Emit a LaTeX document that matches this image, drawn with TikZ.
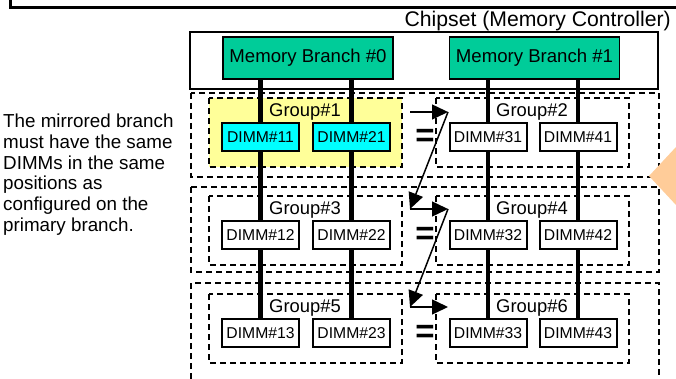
\documentclass[tikz,border=0pt]{standalone}
\usepackage{fontspec}
\setmainfont{Liberation Sans}
\usetikzlibrary{arrows.meta}
\definecolor{branchgreen}{RGB}{0,204,153}
\definecolor{groupyellow}{RGB}{255,255,153}
\definecolor{dimmcyan}{RGB}{0,255,255}
\definecolor{hintorange}{RGB}{255,204,153}

\begin{document}
\begin{tikzpicture}[x=1pt,y=-1pt,
  branch/.style={draw,line width=1.5pt,fill=branchgreen,minimum width=170pt,
    minimum height=42pt,inner sep=0pt,font=\fontsize{18.6}{20}\selectfont},
  dimm/.style={draw,line width=2pt,fill=white,minimum width=77pt,
    minimum height=28pt,inner sep=0pt,font=\fontsize{15.7}{18}\selectfont},
  grouplabel/.style={inner sep=0pt,font=\fontsize{18.4}{20}\selectfont},
  rowbox/.style={dash pattern=on 6pt off 4pt,line width=1.5pt},
  bus/.style={line width=4.5pt},
  mirror/.style={-{Triangle[length=16pt,width=15pt]},line width=1.5pt},
  same/.style={inner sep=0pt,font=\fontsize{33}{33}\selectfont\bfseries}]
  \useasboundingbox (0,0) rectangle (676,379);

  % system board edge and chipset
  \draw[line width=3pt] (10,0) |- (676,8);
  \node[anchor=east,inner sep=0pt,font=\fontsize{21.2}{23}\selectfont]
    (chiptitle) at (671,21) {Chipset (Memory Controller)};
  \node[draw,line width=1.5pt,minimum width=468pt,minimum height=57pt]
    (chip) at (424,60.5) {};
  \node[branch] (branch0) at (308,58) {Memory Branch \#0};
  \node[branch] (branch1) at (534.5,58) {Memory Branch \#1};

  % rows and groups
  \draw[rowbox] (191,93) rectangle (659,177);
  \fill[hintorange] (649,176) -- (676,147) -- (676,205) -- cycle;
  \draw[rowbox] (191,187) rectangle (659,272);
  \draw[rowbox] (191,379) -- (191,283) -- (659,283) -- (659,379);
  \draw[rowbox,fill=groupyellow] (209,98) rectangle (402,167);
  \draw[rowbox] (436,98) rectangle (629,167);
  \draw[rowbox] (209,196) rectangle (402,265);
  \draw[rowbox] (436,196) rectangle (629,265);
  \draw[rowbox] (209,294) rectangle (402,363);
  \draw[rowbox] (436,294) rectangle (629,363);

  \node[grouplabel] (g1) at (305,112) {Group\#1};
  \node[grouplabel] (g2) at (532,112) {Group\#2};
  \node[grouplabel] (g3) at (305,210) {Group\#3};
  \node[grouplabel] (g4) at (532,210) {Group\#4};
  \node[grouplabel] (g5) at (305,308) {Group\#5};
  \node[grouplabel] (g6) at (532,308) {Group\#6};

  % DIMM slots
  \coordinate (d11) at (260.5,137);
  \coordinate (d21) at (351.5,137);
  \coordinate (d31) at (488,137);
  \coordinate (d41) at (578,137);
  \coordinate (d13) at (260.5,333);
  \coordinate (d23) at (351.5,333);
  \coordinate (d33) at (488,333);
  \coordinate (d43) at (578,333);
  \draw[bus] (d11 |- branch0.south) -- (d13);
  \draw[bus] (d21 |- branch0.south) -- (d23);
  \draw[bus] (d31 |- branch1.south) -- (d33);
  \draw[bus] (d41 |- branch1.south) -- (d43);

  \node[dimm,fill=dimmcyan] (dimm11) at (d11) {DIMM\#11};
  \node[dimm,fill=dimmcyan] (dimm21) at (d21) {DIMM\#21};
  \node[dimm] (dimm31) at (d31) {DIMM\#31};
  \node[dimm] (dimm41) at (d41) {DIMM\#41};
  \node[dimm] (dimm12) at (260.5,235) {DIMM\#12};
  \node[dimm] (dimm22) at (351.5,235) {DIMM\#22};
  \node[dimm] (dimm32) at (488,235) {DIMM\#32};
  \node[dimm] (dimm42) at (578,235) {DIMM\#42};
  \node[dimm] (dimm13) at (d13) {DIMM\#13};
  \node[dimm] (dimm23) at (d23) {DIMM\#23};
  \node[dimm] (dimm33) at (d33) {DIMM\#33};
  \node[dimm] (dimm43) at (d43) {DIMM\#43};

  % mirroring
  \node[same] (eq1) at (425,138) {=};
  \node[same] (eq2) at (425,236) {=};
  \node[same] (eq3) at (425,334) {=};
  \coordinate (m1a) at (410,112);
  \coordinate (m1b) at (448,112);
  \coordinate (m2a) at (410,209);
  \coordinate (m2b) at (448,209);
  \coordinate (m3a) at (410,307);
  \coordinate (m3b) at (448,307);
  \draw[mirror] (m1a) -- (m1b);
  \draw[mirror] (m1b) -- (m2a);
  \draw[mirror] (m2a) -- (m2b);
  \draw[mirror] (m2b) -- (m3a);
  \draw[mirror] (m3a) -- (m3b);

  \node[anchor=north west,align=left,inner sep=0pt,
    font=\fontsize{18.8}{20.7}\selectfont] (note) at (3,114)
    {The mirrored branch\\must have the same\\DIMMs in the same\\positions as\\configured on the\\primary branch.};
\end{tikzpicture}
\end{document}
